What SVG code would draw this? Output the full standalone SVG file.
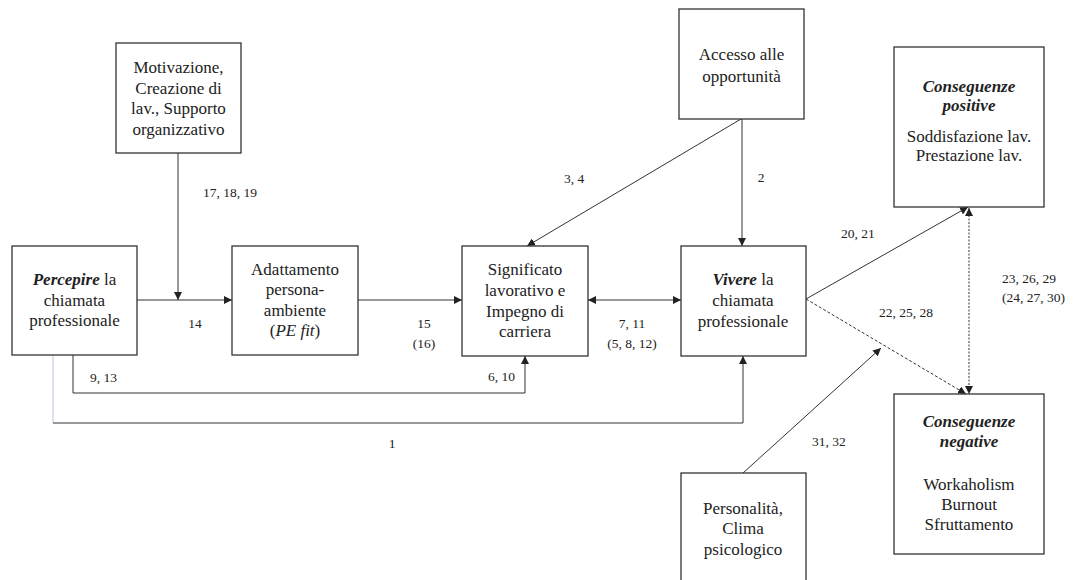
<svg xmlns="http://www.w3.org/2000/svg" width="1074" height="580" viewBox="0 0 1074 580">
<style>
.box{fill:#fff;stroke:#333;stroke-width:1.3}
.t{font-family:"Liberation Serif","Times New Roman",serif;font-size:17px;fill:#222;text-anchor:middle}
.lb{font-family:"Liberation Serif","Times New Roman",serif;font-size:13.5px;fill:#222}
.c{text-anchor:middle}
.bi{font-weight:bold;font-style:italic}
.i{font-style:italic}
.ln{fill:none;stroke:#333;stroke-width:1}
.dash{stroke-dasharray:3 2}
.dot{stroke-dasharray:2 1.5}
</style>
<defs>
<marker id="ah" viewBox="0 0 10 10" refX="10" refY="5" markerWidth="8" markerHeight="8" markerUnits="userSpaceOnUse" orient="auto-start-reverse">
<path d="M0,0 L10,5 L0,10 z" fill="#222"/>
</marker>
</defs>
<rect width="1074" height="580" fill="#fff"/>
<g id="connectors">
<line class="ln" x1="178" y1="153" x2="178" y2="300" marker-end="url(#ah)"/>
<line class="ln" x1="137" y1="300" x2="232" y2="300" marker-end="url(#ah)"/>
<line class="ln" x1="358" y1="300" x2="462" y2="300" marker-end="url(#ah)"/>
<line class="ln" x1="588" y1="300" x2="681" y2="300" marker-start="url(#ah)" marker-end="url(#ah)"/>
<line class="ln" x1="741" y1="119" x2="527" y2="246" marker-end="url(#ah)"/>
<line class="ln" x1="742" y1="119" x2="742" y2="246" marker-end="url(#ah)"/>
<polyline class="ln" points="73,355 73,393 525,393 525,356" marker-end="url(#ah)"/>
<line x1="53" y1="355" x2="53" y2="423" stroke="#c3d0e6" stroke-width="1.2"/>
<polyline class="ln" points="53,423 743,423 743,356" marker-end="url(#ah)"/>
<line class="ln" x1="806" y1="299" x2="968" y2="207" marker-end="url(#ah)"/>
<line class="ln dash" x1="806" y1="299" x2="966" y2="394" marker-end="url(#ah)"/>
<line class="ln dot" x1="969" y1="208" x2="969" y2="394" marker-start="url(#ah)" marker-end="url(#ah)"/>
<line class="ln" x1="743" y1="473" x2="881" y2="348" marker-end="url(#ah)"/>
<text class="lb" x="203" y="197">17, 18, 19</text>
<text class="lb c" x="195" y="328">14</text>
<text class="lb" x="90" y="381.5">9, 13</text>
<text class="lb c" x="424" y="328">15</text>
<text class="lb c" x="424" y="348">(16)</text>
<text class="lb" x="564" y="183">3, 4</text>
<text class="lb c" x="761" y="182">2</text>
<text class="lb c" x="632" y="328">7, 11</text>
<text class="lb c" x="632" y="348">(5, 8, 12)</text>
<text class="lb" x="488" y="381">6, 10</text>
<text class="lb c" x="392" y="448">1</text>
<text class="lb" x="841" y="238">20, 21</text>
<text class="lb" x="879" y="317">22, 25, 28</text>
<text class="lb" x="1002" y="283">23, 26, 29</text>
<text class="lb" x="1002" y="302">(24, 27, 30)</text>
<text class="lb" x="812" y="446">31, 32</text>
</g>
<g id="motivazione">
<rect class="box" x="116" y="43" width="125" height="110"/>
<text class="t" x="178.5" y="73">Motivazione,</text>
<text class="t" x="178.5" y="93.5">Creazione di</text>
<text class="t" x="178.5" y="114">lav., Supporto</text>
<text class="t" x="178.5" y="134.5">organizzativo</text>
</g>
<g id="percepire">
<rect class="box" x="12" y="246" width="125" height="109"/>
<text class="t" x="74.5" y="285"><tspan class="bi">Percepire</tspan> la</text>
<text class="t" x="74.5" y="305.5">chiamata</text>
<text class="t" x="74.5" y="326">professionale</text>
</g>
<g id="adattamento">
<rect class="box" x="232" y="246" width="126" height="109"/>
<text class="t" x="295" y="275">Adattamento</text>
<text class="t" x="295" y="295">persona-</text>
<text class="t" x="295" y="315.5">ambiente</text>
<text class="t" x="295" y="336">(<tspan class="i">PE fit</tspan>)</text>
</g>
<g id="significato">
<rect class="box" x="462" y="246" width="126" height="110"/>
<text class="t" x="525" y="275">Significato</text>
<text class="t" x="525" y="296">lavorativo e</text>
<text class="t" x="525" y="316.5">Impegno di</text>
<text class="t" x="525" y="337">carriera</text>
</g>
<g id="vivere">
<rect class="box" x="681" y="246" width="125" height="110"/>
<text class="t" x="743" y="285"><tspan class="bi">Vivere</tspan> la</text>
<text class="t" x="743" y="305.5">chiamata</text>
<text class="t" x="743" y="326.5">professionale</text>
</g>
<g id="accesso">
<rect class="box" x="679" y="9" width="125" height="110"/>
<text class="t" x="741.5" y="60">Accesso alle</text>
<text class="t" x="741.5" y="81.5">opportunità</text>
</g>
<g id="positive">
<rect class="box" x="894" y="47" width="150" height="160"/>
<text class="t bi" x="969" y="91.5">Conseguenze</text>
<text class="t bi" x="969" y="110.5">positive</text>
<text class="t" x="969" y="141.5">Soddisfazione lav.</text>
<text class="t" x="969" y="160.5">Prestazione lav.</text>
</g>
<g id="negative">
<rect class="box" x="894" y="394" width="150" height="160"/>
<text class="t bi" x="969" y="427">Conseguenze</text>
<text class="t bi" x="969" y="447">negative</text>
<text class="t" x="969" y="490">Workaholism</text>
<text class="t" x="969" y="510">Burnout</text>
<text class="t" x="969" y="530">Sfruttamento</text>
</g>
<g id="personalita">
<rect class="box" x="681" y="473" width="125" height="120"/>
<text class="t" x="743" y="513.5">Personalità,</text>
<text class="t" x="743" y="534">Clima</text>
<text class="t" x="743" y="555">psicologico</text>
</g>
</svg>
